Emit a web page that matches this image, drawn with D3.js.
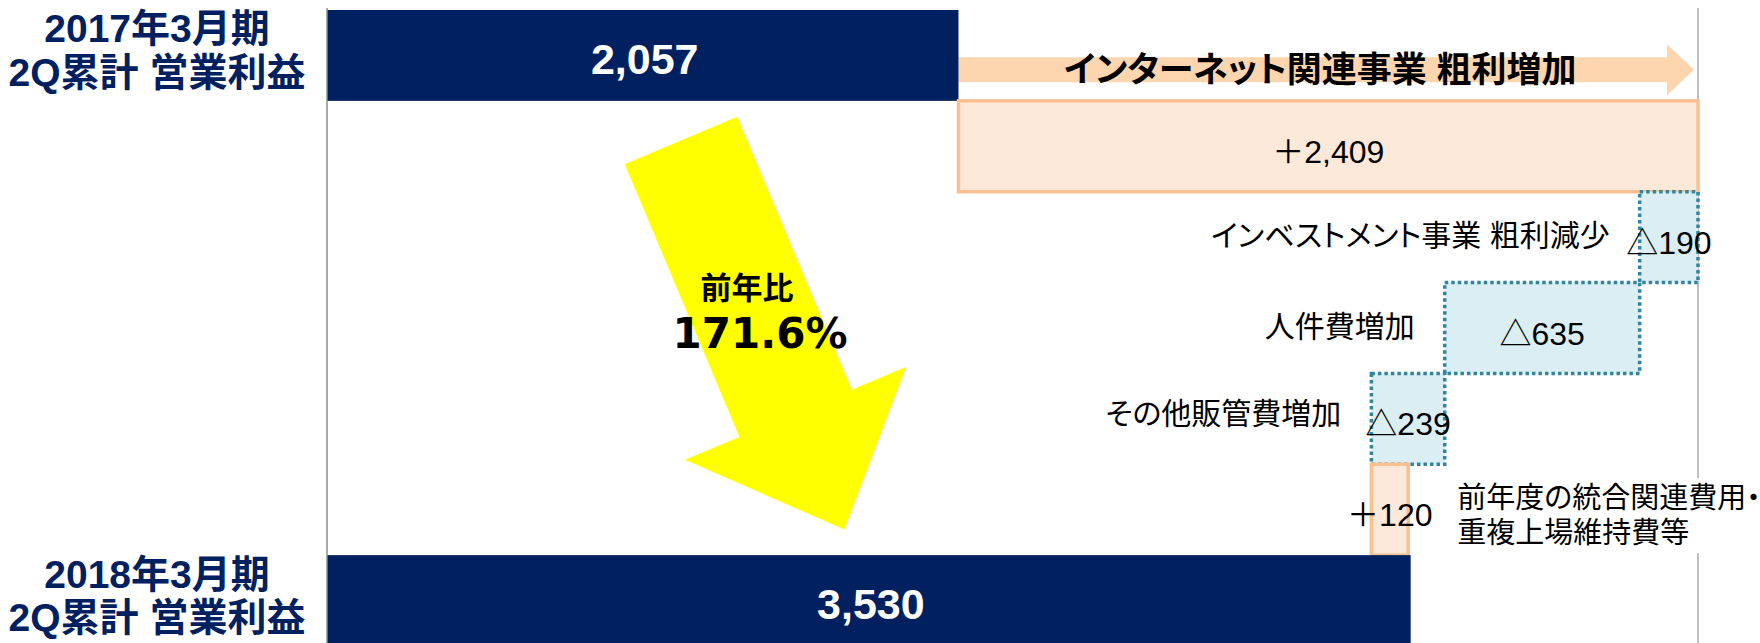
<!DOCTYPE html>
<meta charset="utf-8">

<!-- Load d3.js -->
<script src="https://d3js.org/d3.v7.min.js"></script>

<!-- Create a div where the graph will take place -->
<div id="viz"></div>

<style>
  body { margin: 0; background: #fff; }
  text {
    font-family: "Liberation Sans", Arial, "Noto Sans CJK JP", sans-serif;
    font-feature-settings: "palt";
  }
</style>

<script>

// rows of the waterfall, top to bottom
const categories = [
  "2017年3月期 2Q累計 営業利益",
  "インターネット関連事業 粗利増加",
  "インベストメント事業 粗利減少",
  "人件費増加",
  "その他販管費増加",
  "前年度の統合関連費用・重複上場維持費等",
  "2018年3月期 2Q累計 営業利益"
];

// operating profit / changes (million yen)
const values = [2057, 2409, -190, -635, -239, 120, 3530];
const kinds = ["total", "delta", "delta", "delta", "delta", "delta", "total"];

// how the labels break into lines
const labelLines = [
  ["2017年3月期", "2Q累計 営業利益"],
  ["インターネット関連事業 粗利増加"],
  ["インベストメント事業 粗利減少"],
  ["人件費増加"],
  ["その他販管費増加"],
  ["前年度の統合関連費用・", "重複上場維持費等"],
  ["2018年3月期", "2Q累計 営業利益"]
];

// year on year note
const yoyText = ["前年比", "171.6%"];

// colors
const navy = "#002060",
    peachFill = "#FDE9D9", peachLine = "#FAC090", peachArrow = "#FDD5AE",
    blueFill = "#DAEEF3", blueLine = "#31859C";

const W = 1760, H = 643;

const svg = d3.select("#viz")
  .append("svg")
    .attr("width", W)
    .attr("height", H);

// running totals
let run = 0;
const rows = categories.map((c, i) => {
  const v = values[i];
  let a, b;
  if (kinds[i] === "total") { a = 0; b = v; run = v; }
  else { a = run; b = run + v; run = b; }
  return {cat: c, i: i, v: v, kind: kinds[i], lo: Math.min(a, b), hi: Math.max(a, b), lines: labelLines[i]};
});
const maxRun = d3.max(rows, d => d.hi);

const x = d3.scaleLinear()
  .domain([0, maxRun])
  .range([327, 1698]);

const y = d3.scaleBand()
  .domain(categories)
  .range([10, 646]);

const mid = d => y(d.cat) + y.bandwidth() / 2;
const fmt = d3.format(",");

// right reference line (max level)
svg.append("line")
  .attr("x1", x(maxRun)).attr("x2", x(maxRun))
  .attr("y1", 8).attr("y2", H)
  .attr("stroke", "#bfbfbf")
  .attr("stroke-width", 2);

// orange arrow above the first increase
const inc = rows[1];
const ay = y(inc.cat) - 31;
const ax0 = x(inc.lo), ax1 = x(inc.hi) - 4;
svg.append("path")
  .attr("d", d3.line()([
    [ax0, ay - 12.5], [ax1 - 27, ay - 12.5], [ax1 - 27, ay - 25.5], [ax1, ay],
    [ax1 - 27, ay + 25.5], [ax1 - 27, ay + 12.5], [ax0, ay + 12.5]
  ]) + "Z")
  .attr("fill", peachArrow);

svg.append("text")
  .attr("x", (ax0 + ax1) / 2 - 6)
  .attr("y", ay)
  .attr("dy", "0.36em")
  .attr("text-anchor", "middle")
  .style("font-size", "35px")
  .style("font-weight", "bold")
  .text(inc.lines[0]);

// Bars
svg.selectAll(".bar")
  .data(rows)
  .enter()
  .append("rect")
    .attr("class", "bar")
    .attr("x", d => x(d.lo))
    .attr("width", d => x(d.hi) - x(d.lo))
    .attr("y", d => y(d.cat))
    .attr("height", y.bandwidth())
    .attr("fill", d => d.kind === "total" ? navy : (d.v > 0 ? peachFill : blueFill))
    .attr("stroke", d => d.kind === "total" ? "none" : (d.v > 0 ? peachLine : blueLine))
    .attr("stroke-width", 3.5)
    .attr("stroke-dasharray", d => d.kind === "delta" && d.v < 0 ? "3.5,3" : null);

// left axis line
svg.append("line")
  .attr("x1", x(0)).attr("x2", x(0))
  .attr("y1", 8).attr("y2", H)
  .attr("stroke", "#8c8c8c")
  .attr("stroke-width", 1.5);

// value labels
svg.selectAll(".val")
  .data(rows)
  .enter()
  .append("text")
    .attr("class", "val")
    .attr("x", d => (x(d.lo) + x(d.hi)) / 2 + (d.kind === "total" ? 2 : 0))
    .attr("y", d => mid(d) + (d.kind === "total" ? 3 : 5))
    .attr("dy", "0.36em")
    .attr("text-anchor", "middle")
    .style("font-size", d => d.kind === "total" ? "43px" : "32px")
    .style("font-weight", d => d.kind === "total" ? "bold" : "normal")
    .attr("fill", d => d.kind === "total" ? "#fff" : "#000")
    .text(d => d.kind === "total" ? fmt(d.v) : (d.v > 0 ? "＋" : "△") + fmt(Math.abs(d.v)));

// totals: labels left of the axis
rows.filter(d => d.kind === "total").forEach(d => {
  svg.append("text")
    .attr("x", 157)
    .attr("text-anchor", "middle")
    .attr("fill", navy)
    .style("font-size", "39px")
    .style("font-weight", "bold")
    .selectAll("tspan")
    .data(d.lines)
    .enter()
    .append("tspan")
      .attr("x", 157)
      .attr("y", (t, j) => mid(d) + (j === 0 ? -27 : 16.5))
      .attr("dy", "0.36em")
      .text(t => t);
});

// decreases: labels to the left of the box
svg.selectAll(".lab")
  .data(rows.filter(d => d.kind === "delta" && d.v < 0))
  .enter()
  .append("text")
    .attr("class", "lab")
    .attr("x", d => x(d.lo) - 30)
    .attr("y", d => mid(d) - 2 - (d.i === 4 ? 4 : 0))
    .attr("dy", "0.36em")
    .attr("text-anchor", "end")
    .style("font-size", "30px")
    .text(d => d.lines[0]);

// last increase: two line note on the right, on white
const last = rows[5];
const note = svg.append("g");
const noteBg = note.append("rect").attr("fill", "#fff");
const noteText = note.append("text")
  .style("font-size", "29px");
noteText.selectAll("tspan")
  .data(last.lines)
  .enter()
  .append("tspan")
    .attr("x", x(last.hi) + 49)
    .attr("y", (t, j) => mid(last) - 12 + j * 35)
    .attr("dy", "0.36em")
    .text(t => t);
const bb = noteText.node().getBBox();
noteBg.attr("x", bb.x - 4).attr("y", bb.y - 4)
  .attr("width", bb.width + 8).attr("height", bb.height + 8);

// yellow arrow (year on year)
const arrow = svg.append("g")
  .attr("transform", "translate(681,140.5) rotate(67.2)");
arrow.append("path")
  .attr("d", d3.line()([
    [0, -61], [296, -61], [296, -120], [422, 0], [296, 120], [296, 61], [0, 61]
  ]) + "Z")
  .attr("fill", "#ffff00");

svg.append("text")
  .attr("x", 747).attr("y", 288)
  .attr("dy", "0.36em")
  .attr("text-anchor", "middle")
  .style("font-family", "'Noto Sans CJK JP', sans-serif")
  .style("font-size", "31px")
  .style("font-weight", "bold")
  .text(yoyText[0]);

svg.append("text")
  .attr("x", 760).attr("y", 333)
  .attr("dy", "0.36em")
  .attr("text-anchor", "middle")
  .style("font-family", "'DejaVu Sans', sans-serif")
  .style("font-size", "42px")
  .style("font-weight", "bold")
  .text(yoyText[1]);

</script>
